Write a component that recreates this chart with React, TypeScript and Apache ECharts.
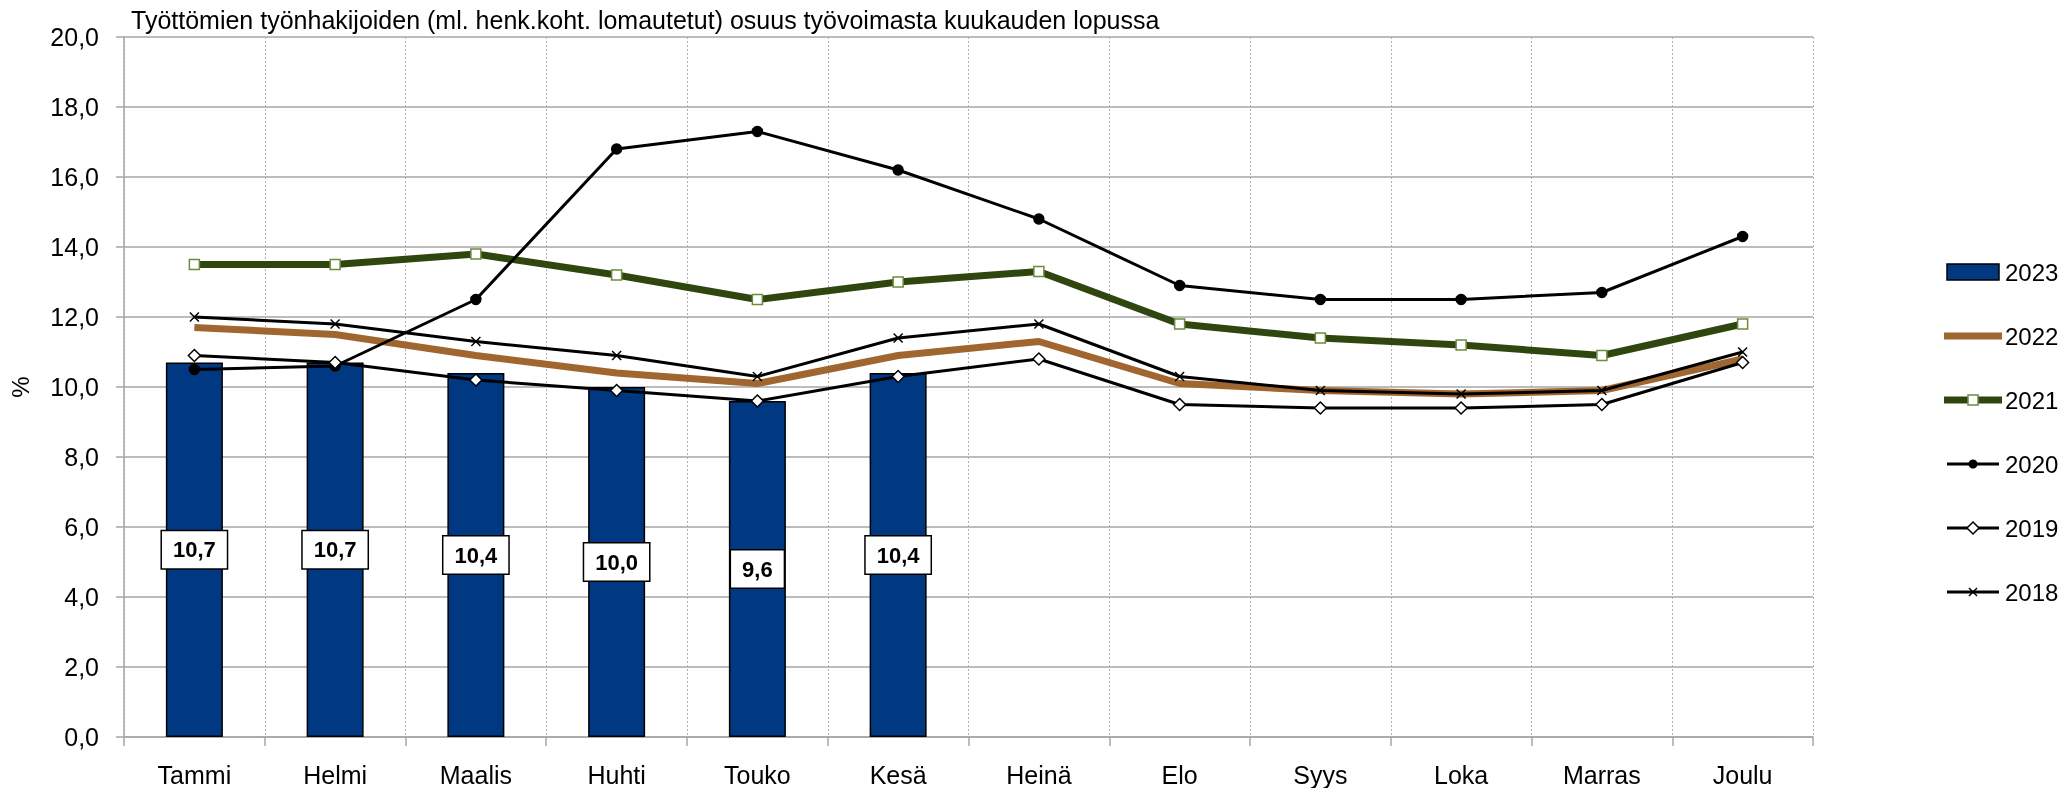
import React, { useEffect, useRef } from "react";
import * as echarts from "echarts";

const months = ["Tammi", "Helmi", "Maalis", "Huhti", "Touko", "Kesä", "Heinä", "Elo", "Syys", "Loka", "Marras", "Joulu"];
const y2023 = [10.7, 10.7, 10.4, 10.0, 9.6, 10.4];
const y2022 = [11.7, 11.5, 10.9, 10.4, 10.1, 10.9, 11.3, 10.1, 9.9, 9.8, 9.9, 10.8];
const y2021 = [13.5, 13.5, 13.8, 13.2, 12.5, 13.0, 13.3, 11.8, 11.4, 11.2, 10.9, 11.8];
const y2020 = [10.5, 10.6, 12.5, 16.8, 17.3, 16.2, 14.8, 12.9, 12.5, 12.5, 12.7, 14.3];
const y2019 = [10.9, 10.7, 10.2, 9.9, 9.6, 10.3, 10.8, 9.5, 9.4, 9.4, 9.5, 10.7];
const y2018 = [12.0, 11.8, 11.3, 10.9, 10.3, 11.4, 11.8, 10.3, 9.9, 9.8, 9.9, 11.0];
const legendNames = ["2023", "2022", "2021", "2020", "2019", "2018"];

const titleText = "Työttömien työnhakijoiden (ml. henk.koht. lomautetut) osuus työvoimasta kuukauden lopussa";
const FONT = "Liberation Sans";
const fmt = (v: number) => v.toFixed(1).replace(".", ",");

const BLUE = "#003882";
const BROWN = "#a0662f";
const GREEN = "#30460f";
const GREEN_EDGE = "#6e8b3d";

function legendGraphics() {
  const els: any[] = [];
  const x0 = 1944;
  const x1 = 2002;
  const cx = (x0 + x1) / 2;
  legendNames.forEach((name, i) => {
    const cy = 272 + 64 * i;
    if (name === "2023") {
      els.push({ type: "rect", shape: { x: 1947, y: cy - 8, width: 52, height: 16 }, style: { fill: BLUE, stroke: "#000", lineWidth: 1.5 } });
    } else if (name === "2022") {
      els.push({ type: "line", shape: { x1: x0, y1: cy, x2: x1, y2: cy }, style: { stroke: BROWN, lineWidth: 7 } });
    } else if (name === "2021") {
      els.push({ type: "line", shape: { x1: x0, y1: cy, x2: x1, y2: cy }, style: { stroke: GREEN, lineWidth: 7 } });
      els.push({ type: "rect", shape: { x: cx - 5, y: cy - 5, width: 10, height: 10 }, style: { fill: "#fff", stroke: GREEN_EDGE, lineWidth: 1.5 } });
    } else {
      els.push({ type: "line", shape: { x1: 1947, y1: cy, x2: 1999, y2: cy }, style: { stroke: "#000", lineWidth: 3 } });
      if (name === "2020") {
        els.push({ type: "circle", shape: { cx: 1973, cy, r: 4.5 }, style: { fill: "#000" } });
      } else if (name === "2019") {
        els.push({ type: "polygon", shape: { points: [[1973, cy - 6], [1979, cy], [1973, cy + 6], [1967, cy]] }, style: { fill: "#fff", stroke: "#000", lineWidth: 1.5 } });
      } else {
        els.push({ type: "line", shape: { x1: 1969, y1: cy - 4, x2: 1977, y2: cy + 4 }, style: { stroke: "#000", lineWidth: 1.5 } });
        els.push({ type: "line", shape: { x1: 1977, y1: cy - 4, x2: 1969, y2: cy + 4 }, style: { stroke: "#000", lineWidth: 1.5 } });
      }
    }
    els.push({
      type: "text",
      x: 2005,
      y: cy,
      style: { text: name, fontFamily: FONT, fontSize: 24, fill: "#000", verticalAlign: "middle", align: "left" },
    });
  });
  return els;
}

export default function App() {
  const ref = useRef<HTMLDivElement>(null);
  useEffect(() => {
    if (!ref.current) return;
    const chart = echarts.init(ref.current, undefined, { renderer: "svg" });
    const blackLine = (name: string, data: number[], symbol: string, size: number, fill: string) => ({
      name,
      type: "line",
      data,
      symbol,
      symbolSize: size,
      showAllSymbol: true,
      lineStyle: { color: "#000", width: 3 },
      itemStyle: { color: fill, borderColor: "#000", borderWidth: 1.5 },
      z: 3,
    });
    chart.setOption({
      animation: false,
      textStyle: { fontFamily: FONT },
      title: {
        text: titleText,
        left: 126,
        top: 2,
        textStyle: { fontFamily: FONT, fontSize: 25, fontWeight: "normal", color: "#000" },
      },
      graphic: legendGraphics(),
      grid: { left: 123, right: 259, top: 37, bottom: 51, containLabel: false },
      xAxis: {
        type: "category",
        data: months,
        boundaryGap: true,
        axisLine: { lineStyle: { color: "#a6a6a6", width: 1.5 } },
        axisTick: { show: true, length: 9, lineStyle: { color: "#a6a6a6", width: 1.5 } },
        axisLabel: { fontFamily: FONT, fontSize: 25, color: "#000", margin: 25 },
        splitLine: { show: true, lineStyle: { color: "#b0b0b0", type: [2, 2], width: 1 } },
      },
      yAxis: {
        type: "value",
        min: 0,
        max: 20,
        interval: 2,
        name: "%",
        nameLocation: "middle",
        nameGap: 92,
        nameRotate: 90,
        nameTextStyle: { fontFamily: FONT, fontSize: 24, color: "#000" },
        axisLine: { show: true, lineStyle: { color: "#a6a6a6", width: 1.5 } },
        axisTick: { show: true, length: 8, lineStyle: { color: "#a6a6a6", width: 1.5 } },
        axisLabel: { fontFamily: FONT, fontSize: 25, color: "#000", margin: 25, formatter: (v: number) => fmt(v) },
        splitLine: { show: true, lineStyle: { color: "#a6a6a6", width: 1.5 } },
      },
      series: [
        {
          name: "2023",
          type: "bar",
          data: y2023,
          barWidth: 57,
          itemStyle: { color: BLUE, borderColor: "#000", borderWidth: 1.5 },
          label: {
            show: true,
            position: "inside",
            formatter: (p: any) => fmt(p.value),
            fontFamily: FONT,
            fontSize: 22,
            fontWeight: "bold",
            color: "#000",
            backgroundColor: "#fff",
            borderColor: "#000",
            borderWidth: 1.5,
            padding: [8, 11, 7, 11],
          },
          z: 2,
        },
        {
          name: "2022",
          type: "line",
          data: y2022,
          symbol: "none",
          lineStyle: { color: BROWN, width: 7 },
          itemStyle: { color: BROWN },
          z: 3,
        },
        {
          name: "2021",
          type: "line",
          data: y2021,
          symbol: "rect",
          symbolSize: 10,
          showAllSymbol: true,
          lineStyle: { color: GREEN, width: 7 },
          itemStyle: { color: "#fff", borderColor: GREEN_EDGE, borderWidth: 1.5 },
          z: 3,
        },
        blackLine("2020", y2020, "circle", 10, "#000"),
        blackLine("2019", y2019, "diamond", 12, "#fff"),
        blackLine("2018", y2018, "path://M0,0L10,10M10,0L0,10", 9, "#000"),
      ],
    });
    return () => chart.dispose();
  }, []);
  return <div ref={ref} style={{ position: "fixed", left: 0, top: 0, width: 2072, height: 788 }} />;
}
